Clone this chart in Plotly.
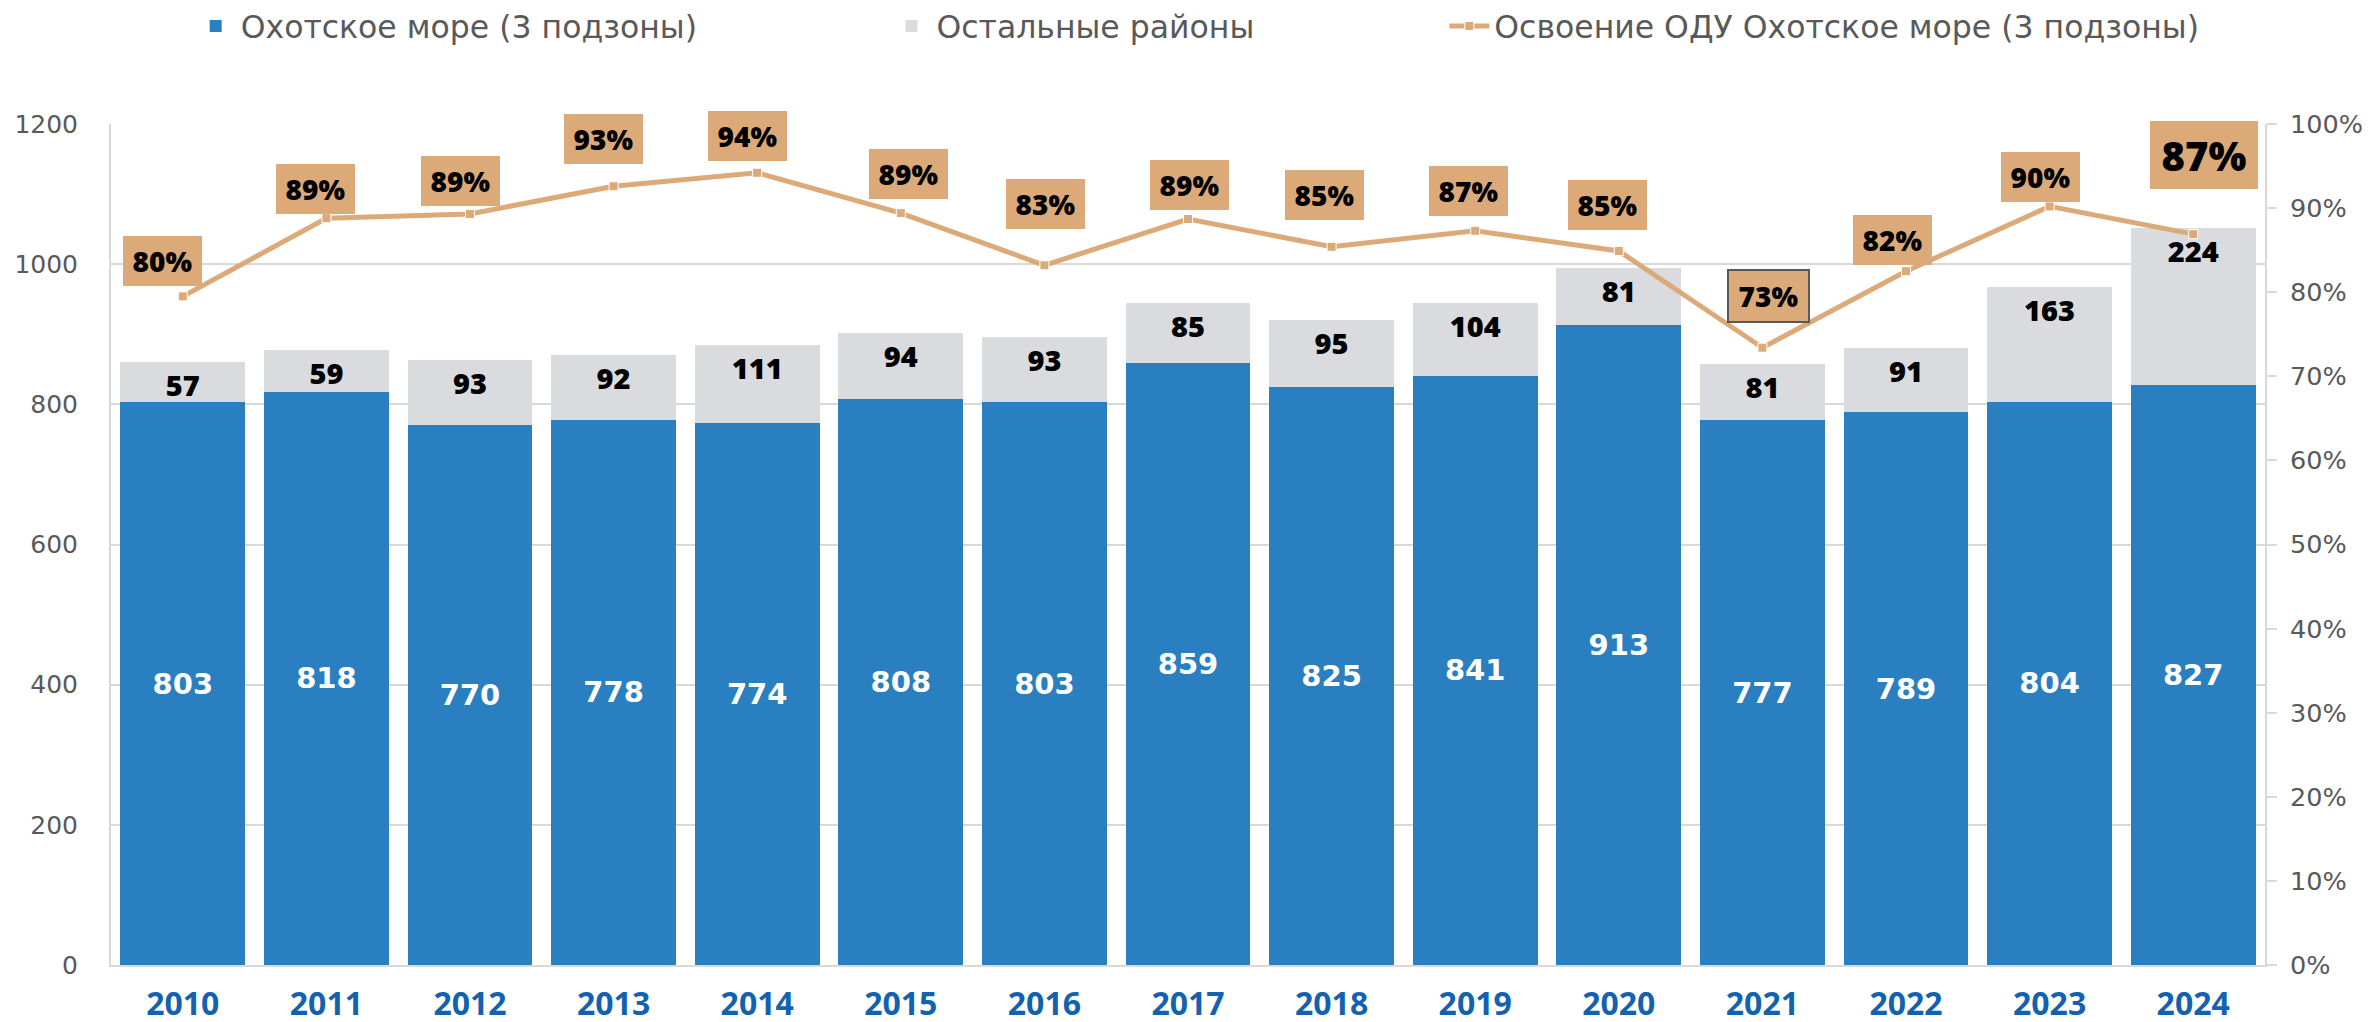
import plotly.graph_objects as go

years = ["2010", "2011", "2012", "2013", "2014", "2015", "2016", "2017",
         "2018", "2019", "2020", "2021", "2022", "2023", "2024"]
okhotsk = [803, 818, 770, 778, 774, 808, 803, 859, 825, 841, 913, 777, 789, 804, 827]
others = [57, 59, 93, 92, 111, 94, 93, 85, 95, 104, 81, 81, 91, 163, 224]
usage = [0.795, 0.888, 0.893, 0.926, 0.942, 0.894, 0.832, 0.887, 0.854, 0.873,
         0.849, 0.734, 0.825, 0.902, 0.869]
usage_labels = ["80%", "89%", "89%", "93%", "94%", "89%", "83%", "89%",
                "85%", "87%", "85%", "73%", "82%", "90%", "87%"]

# label box offsets from the line points (px, screen)
label_dx = [-20, -11, -10, -10, -10, 8, 1, 1, -7, -7, -11, 6, -14, -9, 11]
label_dy = [35, 29, 33, 47, 37, 39, 61, 34, 52, 40, 46, 52, 31, 29, 79]

BLUE = "#2a7fc0"
GREY = "#dadbdf"
TAN = "#dcaa78"
AXIS_TXT = "#595959"
GRID = "#d9d9d9"

fig = go.Figure()

fig.add_trace(go.Bar(
    x=years, y=okhotsk, name="Охотское море (3 подзоны)",
    marker=dict(color=BLUE, line=dict(width=0)),
    text=okhotsk, textposition="inside", insidetextanchor="middle", textangle=0,
    textfont=dict(family="DejaVu Sans", size=29, color="white", weight=700),
    constraintext="none", legend="legend",
))
fig.add_trace(go.Bar(
    x=years, y=others, name="Остальные районы",
    marker=dict(color=GREY, line=dict(width=0)),
    text=others, textposition="inside", insidetextanchor="end", textangle=0,
    textfont=dict(family="Open Sans", size=29, color="black", weight=800),
    constraintext="none", legend="legend2",
))
fig.add_trace(go.Scatter(
    x=years, y=usage, yaxis="y2", name="Освоение ОДУ Охотское море (3 подзоны)",
    mode="lines+markers",
    line=dict(color=TAN, width=5),
    marker=dict(symbol="square", size=9, color=TAN, line=dict(color="white", width=1)),
    legend="legend3",
))

# category index used for x so that "2010" is not read as a number
for i, (yr, v, lab) in enumerate(zip(years, usage, usage_labels)):
    big = yr == "2024"
    fig.add_annotation(
        x=i, y=v, yref="y2", text=lab, showarrow=False,
        xshift=label_dx[i], yshift=label_dy[i],
        font=dict(family="Open Sans", size=40 if big else 28, color="black", weight=800),
        bgcolor=TAN,
        bordercolor="#595959" if yr == "2021" else TAN,
        borderwidth=2 if yr == "2021" else 0,
        width=92 if big else 63, height=52 if big else 34, borderpad=8,
    )

leg_font = dict(family="DejaVu Sans", size=31.5, color=AXIS_TXT)
leg_common = dict(orientation="h", yanchor="middle", y=1.1165, xanchor="left",
                  font=leg_font, bgcolor="rgba(0,0,0,0)", itemwidth=40)

fig.update_layout(
    width=2372, height=1022,
    margin=dict(l=111, r=107, t=124, b=57, autoexpand=False),
    paper_bgcolor="white", plot_bgcolor="white",
    barmode="stack", bargap=0.13,
    showlegend=True,
    legend=dict(x=0.037, **leg_common),
    legend2=dict(x=0.360, **leg_common),
    legend3=dict(x=0.619, **leg_common),
    xaxis=dict(
        type="category", range=[-0.5, len(years) - 0.5], automargin=False,
        tickfont=dict(family="Open Sans", size=32, color="#1262b0", weight=700),
        showline=True, linecolor=GRID, linewidth=2, ticks="", ticklabelstandoff=10,
    ),
    yaxis=dict(
        range=[0, 1200], dtick=200, automargin=False,
        tickfont=dict(family="DejaVu Sans", size=25, color=AXIS_TXT),
        showgrid=True, gridcolor=GRID, gridwidth=2, showline=True, linecolor=GRID,
        linewidth=2, zeroline=False, ticks="", ticklabelstandoff=26,
    ),
    yaxis2=dict(
        range=[0, 1], dtick=0.1, tickformat=".0%", overlaying="y", side="right",
        automargin=False,
        tickfont=dict(family="DejaVu Sans", size=25.5, color=AXIS_TXT),
        showgrid=False, showline=True, linecolor=GRID, linewidth=2,
        ticks="outside", ticklen=10, tickcolor=GRID, tickwidth=2, ticklabelstandoff=8,
        zeroline=False,
    ),
)

# drop the default 8px page margin so the figure fills the window exactly
fig.write_html("out.html", config={"displayModeBar": False},
               post_script="document.body.style.margin='0';document.body.style.overflow='hidden';")
